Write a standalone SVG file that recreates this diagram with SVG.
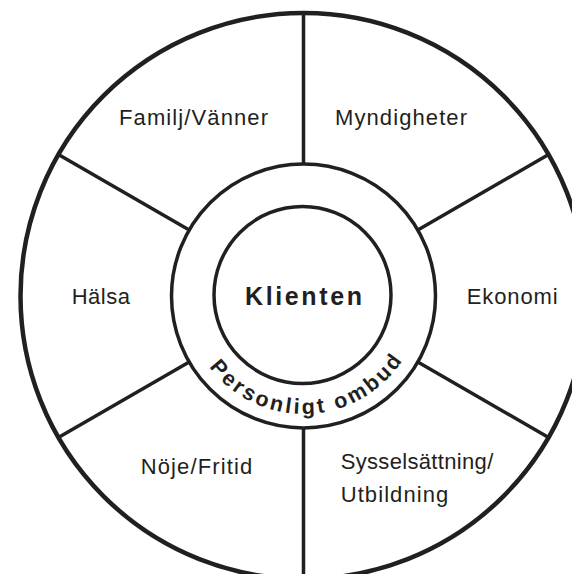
<svg xmlns="http://www.w3.org/2000/svg" width="572" height="574" viewBox="0 0 572 574">
  <defs>
    <style>
      .ring { fill: none; stroke: #231f20; }
      .spoke { stroke: #231f20; stroke-width: 3.5; fill: none; }
      .lbl { font-family: "Liberation Sans", Arial, sans-serif; font-size: 22px; fill: #231f20; }
      .bold { font-family: "Liberation Sans", Arial, sans-serif; font-weight: bold; fill: #231f20; }
    </style>
    <path id="arcText" d="M 185.5 296 A 118 118 0 0 0 421.5 296"/>
  </defs>
  <rect width="572" height="574" fill="#ffffff"/>
  <g id="outer">
    <circle class="ring" cx="303.5" cy="296" r="283" stroke-width="4.5"/>
  </g>
  <g id="connectors">
    <line class="spoke" x1="303.5" y1="13" x2="303.5" y2="164"/>
    <line class="spoke" x1="303.5" y1="428" x2="303.5" y2="580"/>
    <line class="spoke" x1="58.4" y1="154.5" x2="189.2" y2="230"/>
    <line class="spoke" x1="548.6" y1="154.5" x2="417.8" y2="230"/>
    <line class="spoke" x1="58.4" y1="437.5" x2="189.2" y2="362"/>
    <line class="spoke" x1="548.6" y1="437.5" x2="417.8" y2="362"/>
  </g>
  <g id="ombud">
    <circle class="ring" cx="303.5" cy="296" r="132" stroke-width="3.5"/>
    <text class="bold" font-size="21.5"><textPath href="#arcText" startOffset="51%" text-anchor="middle" textLength="226" lengthAdjust="spacing">Personligt ombud</textPath></text>
  </g>
  <g id="klienten">
    <circle class="ring" cx="302.5" cy="295" r="88.5" stroke-width="3.5"/>
    <text class="bold" font-size="25" x="245" y="305" textLength="117" lengthAdjust="spacing">Klienten</text>
  </g>
  <g id="familj">
    <text class="lbl" x="119" y="124.5" textLength="149" lengthAdjust="spacing">Familj/Vänner</text>
  </g>
  <g id="myndigheter">
    <text class="lbl" x="335" y="125" textLength="132" lengthAdjust="spacing">Myndigheter</text>
  </g>
  <g id="halsa">
    <text class="lbl" x="71.7" y="303.5" textLength="58.3" lengthAdjust="spacing">Hälsa</text>
  </g>
  <g id="ekonomi">
    <text class="lbl" x="466.7" y="304" textLength="91" lengthAdjust="spacing">Ekonomi</text>
  </g>
  <g id="noje">
    <text class="lbl" x="140.7" y="473.5" textLength="111.6" lengthAdjust="spacing">Nöje/Fritid</text>
  </g>
  <g id="syssel">
    <text class="lbl" x="340.7" y="469" textLength="152.6" lengthAdjust="spacing">Sysselsättning/</text>
    <text class="lbl" x="340.7" y="502" textLength="107.6" lengthAdjust="spacing">Utbildning</text>
  </g>
</svg>
